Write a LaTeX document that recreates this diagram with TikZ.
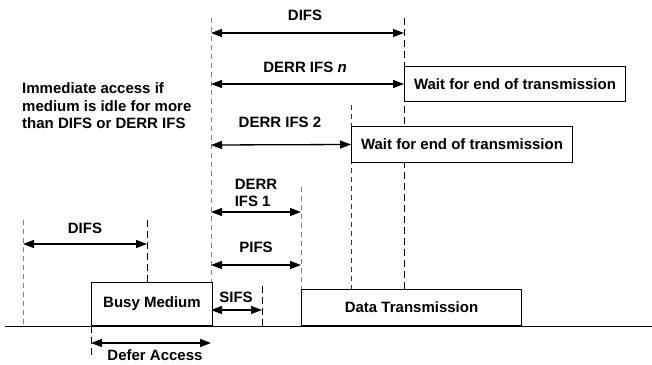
\documentclass[tikz,border=0pt]{standalone}
\usepackage{fontspec}
\setmainfont{Liberation Sans}
\usetikzlibrary{arrows.meta}
\begin{document}
\begin{tikzpicture}[x=1pt,y=-1pt,
  lbl/.style={font=\fontsize{15}{17.5}\selectfont\bfseries, inner sep=0pt, align=center},
  boxn/.style={draw, fill=white, line width=1pt, inner sep=0pt, font=\fontsize{15}{17}\selectfont\bfseries},
  dim/.style={line width=1.3pt, {Triangle[length=11pt,width=8pt]}-{Triangle[length=11pt,width=8pt]}},
  gdash/.style={draw=gray, line width=0.9pt, dash pattern=on 5pt off 4pt},
  bdash/.style={draw=black, line width=1pt, dash pattern=on 7pt off 4pt},
  base/.style={line width=1pt}]
\useasboundingbox (0,0) rectangle (652,364);
% baseline
\coordinate (b0) at (5,326);
\coordinate (b1) at (652,326);
\draw[base] (b0) -- (b1);
% vertical marker coordinates
\coordinate (v23t) at (23,220);   \coordinate (v23b) at (23,326);
\coordinate (v147t) at (147,220); \coordinate (v147b) at (147,283);
\coordinate (v211t) at (211,18);  \coordinate (v211b) at (211,326);
\coordinate (v262t) at (262,286); \coordinate (v262b) at (262,326);
\coordinate (v301t) at (301,187); \coordinate (v301b) at (301,290);
\coordinate (v351t) at (351,105); \coordinate (v351b) at (351,290);
\coordinate (v404t) at (404,18);  \coordinate (v404b) at (404,290);
\coordinate (v91t) at (91,326);   \coordinate (v91b) at (91,356);
\draw[gdash] (v23t) -- (v23b);
\draw[bdash] (v147t) -- (v147b);
\draw[gdash] (v211t) -- (v211b);
\draw[bdash] (v262t) -- (v262b);
\draw[gdash] (v301t) -- (v301b);
\draw[gdash, draw=black!80] (v351t) -- (v351b);
\draw[bdash] (v404t) -- (v404b);
\draw[bdash] (v91t) -- (v91b);
% boxes
\node[boxn, minimum width=121pt, minimum height=43pt, anchor=south west] (busy) at (91,326) {Busy Medium};
\node[boxn, minimum width=220pt, minimum height=36pt, anchor=south west] (data) at (301,326) {Data Transmission};
\node[boxn, minimum width=221pt, minimum height=35pt, anchor=north west] (wait1) at (404,66) {Wait for end of transmission};
\node[boxn, minimum width=221pt, minimum height=36pt, anchor=north west] (wait2) at (351,126) {Wait for end of transmission};
% dimension arrows
\coordinate (a1l) at (211,33);  \coordinate (a1r) at (404,33);
\draw[dim] (a1l) -- (a1r);
\coordinate (a2l) at (211,84);
\draw[dim] (a2l) -- (wait1.west);
\coordinate (a3l) at (211,145);
\draw[dim] (a3l) -- (wait2.west);
\coordinate (a4l) at (211,212); \coordinate (a4r) at (301,212);
\draw[dim] (a4l) -- (a4r);
\coordinate (a5l) at (211,265); \coordinate (a5r) at (301,265);
\draw[dim] (a5l) -- (a5r);
\coordinate (a6l) at (211,310); \coordinate (a6r) at (262,310);
\draw[dim] (a6l) -- (a6r);
\coordinate (a7l) at (23,244); \coordinate (a7r) at (147,244);
\draw[dim] (a7l) -- (a7r);
\coordinate (a8l) at (91,343); \coordinate (a8r) at (211,343);
\draw[dim] (a8l) -- (a8r);
% labels
\node[lbl] (ldifs) at (305,15) {DIFS};
\node[lbl] (lderrn) at (305,67) {DERR IFS \textit{n}};
\node[lbl] (lderr2) at (280,122) {DERR IFS 2};
\node[lbl, align=left] (lderr1) at (256,193) {DERR\\IFS 1};
\node[lbl] (lpifs) at (256,247) {PIFS};
\node[lbl] (lsifs) at (236,297) {SIFS};
\node[lbl] (ldifs2) at (85,228) {DIFS};
\node[lbl] (ldefer) at (155,355) {Defer Access};
\node[lbl, align=left, anchor=west] (limm) at (22,106) {Immediate access if\\medium is idle for more\\than DIFS or DERR IFS};
\end{tikzpicture}
\end{document}
